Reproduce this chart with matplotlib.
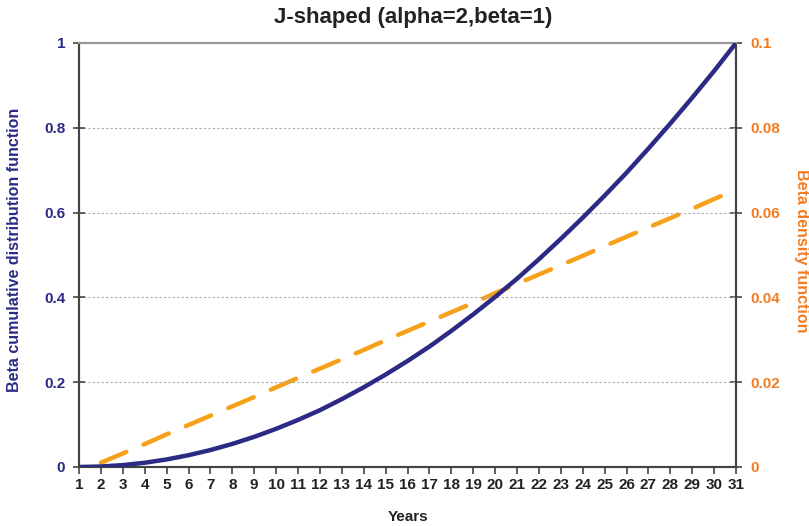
import matplotlib
matplotlib.use('Agg')
import matplotlib.pyplot as plt

plt.rcParams['font.family'] = ['Liberation Sans', 'DejaVu Sans']
plt.rcParams['font.weight'] = 'bold'

# data
years = list(range(1, 32))
cdf = [0.0, 0.0011, 0.0044, 0.01, 0.0178, 0.0278, 0.04, 0.0544, 0.0711, 0.09,
       0.111, 0.134, 0.16, 0.188, 0.218, 0.25, 0.284, 0.321, 0.36, 0.401,
       0.444, 0.49, 0.538, 0.588, 0.64, 0.694, 0.751, 0.81, 0.871, 0.934, 1.0]
density_years = list(range(2, 32))
density = [0.001, 0.0032, 0.0054, 0.0077, 0.0099, 0.0121, 0.0143, 0.0165, 0.0188, 0.021,
           0.0232, 0.0254, 0.0276, 0.0299, 0.0321, 0.0343, 0.0365, 0.0387, 0.041, 0.0432,
           0.0454, 0.0476, 0.0498, 0.0521, 0.0543, 0.0565, 0.0587, 0.0609, 0.0632, 0.0654]

navy = '#2B2A85'
orange_line = '#F7A11A'
orange_text = '#F47B20'
axis_col = '#444444'

fig = plt.figure(figsize=(8.09, 5.26), dpi=100)
ax = fig.add_axes([0.0977, 0.1122, 0.8121, 0.8061])
ax2 = ax.twinx()

ax.plot(years, cdf, color=navy, linewidth=3.2, solid_capstyle='round', zorder=3)
ax2.plot(density_years, density, color=orange_line, linewidth=3.2,
         dashes=(6.2, 4.2), dash_capstyle='round', zorder=2)

ax.set_zorder(ax2.get_zorder() + 1)
ax.patch.set_visible(False)

ax.set_xlim(1, 31)
ax.set_ylim(0, 1)
ax2.set_ylim(0, 0.1)

ax.set_xticks(years)
ax.set_xticklabels([str(y) for y in years], fontsize=11, fontweight='bold', color='#222222')
ax.set_yticks([0, 0.2, 0.4, 0.6, 0.8, 1])
ax.set_yticklabels(['0', '0.2', '0.4', '0.6', '0.8', '1'], fontsize=11, fontweight='bold', color=navy)
ax2.set_yticks([0, 0.02, 0.04, 0.06, 0.08, 0.1])
ax2.set_yticklabels(['0', '0.02', '0.04', '0.06', '0.08', '0.1'], fontsize=11, fontweight='bold', color=orange_text)

ax.tick_params(axis='x', direction='out', length=5, width=1.2, color=axis_col, pad=3)
ax.tick_params(axis='y', direction='inout', length=8, width=1.2, color=axis_col, pad=6)
ax2.tick_params(axis='y', direction='inout', length=8, width=1.2, color=axis_col, pad=6)

for y in [0.2, 0.4, 0.6, 0.8]:
    ax.axhline(y, color='#AAAAAA', linestyle=(0, (2, 2)), linewidth=0.8, zorder=0)

for a in (ax, ax2):
    a.spines['top'].set_color('#999999')
    a.spines['top'].set_linewidth(1.5)
    for s in ('left', 'right', 'bottom'):
        a.spines[s].set_color(axis_col)
        a.spines[s].set_linewidth(1.5)

fig.text(0.511, 1 - 18 / 526, 'J-shaped (alpha=2,beta=1)', fontsize=16, fontweight='bold',
         color='#222222', ha='center', va='center')
fig.text(0.505, 1 - 517 / 526, 'Years', fontsize=11, fontweight='bold',
         color='#222222', ha='center', va='center')
fig.text(15 / 809, 1 - 250 / 526, 'Beta cumulative distribution function', fontsize=11.5,
         fontweight='bold', color=navy, rotation=90, ha='center', va='center')
fig.text(802 / 809, 1 - 251 / 526, 'Beta density function', fontsize=11.5,
         fontweight='bold', color=orange_text, rotation=270, ha='center', va='center')

fig.savefig('out.png', dpi=100)
